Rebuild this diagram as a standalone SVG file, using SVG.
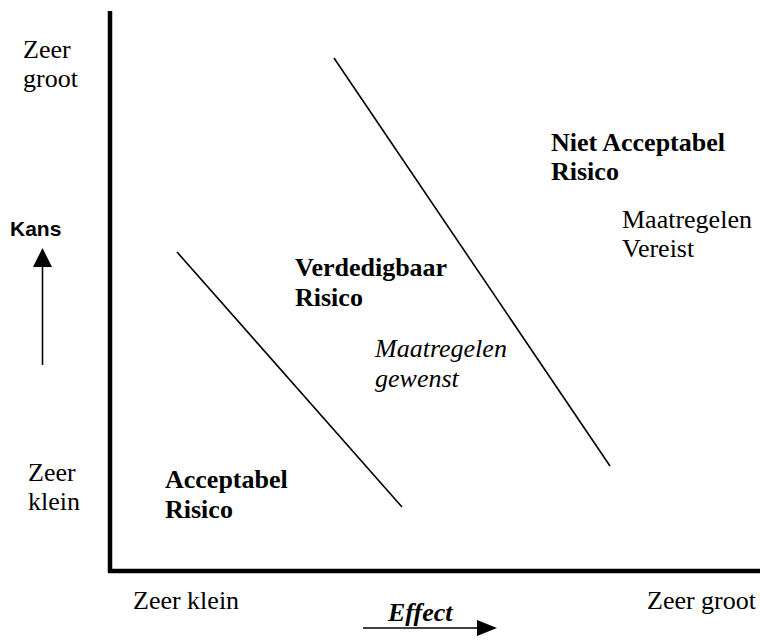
<svg xmlns="http://www.w3.org/2000/svg" width="760" height="643" viewBox="0 0 760 643">
  <style>
    text { fill: #000; }
    .axis { stroke: #000; stroke-width: 4.5; fill: none; }
    .div { stroke: #000; stroke-width: 1.6; fill: none; }
    .arr { stroke: #000; stroke-width: 1.6; fill: none; }
  </style>
  <rect width="760" height="643" fill="#fff"/>

  <!-- axes -->
  <g id="axes">
    <line class="axis" x1="110" y1="11" x2="110" y2="573"/>
    <line class="axis" x1="108" y1="571" x2="760" y2="571"/>
  </g>

  <!-- zone boundaries -->
  <g id="connectors">
    <line class="div" x1="177" y1="252" x2="402" y2="507"/>
    <line class="div" x1="334" y1="58" x2="610" y2="466"/>
  </g>

  <!-- Kans axis label and arrow -->
  <g id="kans">
    <text x="10" y="236" font-family="Liberation Sans, Arial, sans-serif" font-size="21" font-weight="bold">Kans</text>
    <line class="arr" x1="42.5" y1="365" x2="42.5" y2="266"/>
    <polygon points="42.5,248 33,267 52,267" fill="#000"/>
  </g>

  <g font-family="Liberation Serif, Times New Roman, serif" font-size="26">
    <!-- Effect axis label and arrow -->
    <g id="effect">
      <text x="388" y="621" font-weight="bold" font-style="italic">Effect</text>
      <line class="arr" x1="363" y1="628" x2="480" y2="628"/>
      <polygon points="497,628 477,620 477,636" fill="#000"/>
    </g>

    <!-- scale labels -->
    <g id="kans-high">
      <text x="23" y="58">Zeer</text>
      <text x="23" y="87">groot</text>
    </g>
    <g id="kans-low">
      <text x="28" y="481">Zeer</text>
      <text x="28" y="510">klein</text>
    </g>
    <g id="effect-low">
      <text x="133" y="609">Zeer klein</text>
    </g>
    <g id="effect-high">
      <text x="647" y="609">Zeer groot</text>
    </g>

    <!-- zones -->
    <g id="acceptabel" font-weight="bold">
      <text x="165" y="488">Acceptabel</text>
      <text x="165" y="518">Risico</text>
    </g>
    <g id="verdedigbaar">
      <text x="295" y="276" font-weight="bold">Verdedigbaar</text>
      <text x="295" y="306" font-weight="bold">Risico</text>
      <text x="375" y="357" font-style="italic">Maatregelen</text>
      <text x="375" y="387" font-style="italic">gewenst</text>
    </g>
    <g id="niet-acceptabel">
      <text x="551" y="151" font-weight="bold">Niet Acceptabel</text>
      <text x="551" y="180" font-weight="bold">Risico</text>
      <text x="622" y="228">Maatregelen</text>
      <text x="622" y="257">Vereist</text>
    </g>
  </g>
</svg>
